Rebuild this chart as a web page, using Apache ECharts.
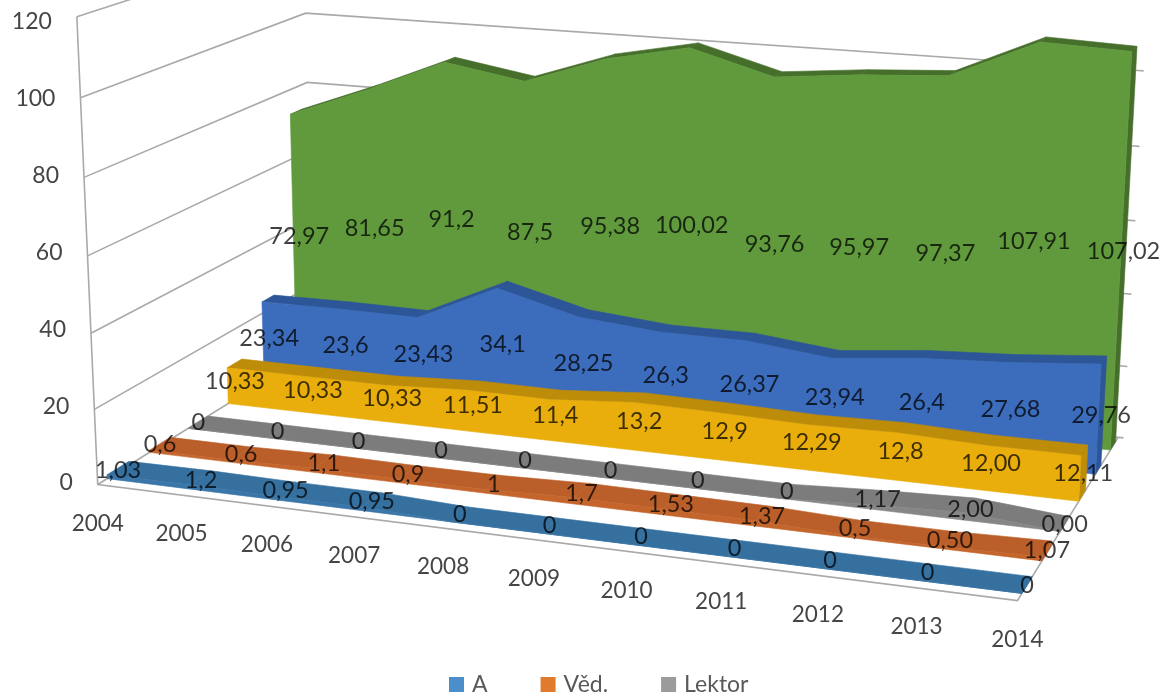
<!DOCTYPE html>
<html>
<head>
<meta charset="utf-8">
<style>html,body{margin:0;padding:0;background:#fff}#chart{width:1169px;height:697px}</style>
<script src="https://cdn.jsdelivr.net/npm/echarts@6/dist/echarts.min.js"></script>
</head>
<body>
<div id="chart"></div>
<script>
// Chart data, one small list per series (front row to back row)
const years = ['2004','2005','2006','2007','2008','2009','2010','2011','2012','2013','2014'];
const yTicks = [0, 20, 40, 60, 80, 100, 120];
const rowA = [1.03, 1.2, 0.95, 0.95, 0, 0, 0, 0, 0, 0, 0];
const rowVed = [0.6, 0.6, 1.1, 0.9, 1, 1.7, 1.53, 1.37, 0.5, 0.5, 1.07];
const rowLektor = [0, 0, 0, 0, 0, 0, 0, 0, 1.17, 2, 0];
const rowYellow = [10.33, 10.33, 10.33, 11.51, 11.4, 13.2, 12.9, 12.29, 12.8, 12, 12.11];
const rowBlue = [23.34, 23.6, 23.43, 34.1, 28.25, 26.3, 26.37, 23.94, 26.4, 27.68, 29.76];
const rowGreen = [72.97, 81.65, 91.2, 87.5, 95.38, 100.02, 93.76, 95.97, 97.37, 107.91, 107.02];
// Points whose labels keep two decimals
const twoDecimalsVed = [9];
const twoDecimalsLektor = [9, 10];
const twoDecimalsYellow = [9];

const FONT = 'Lato';
const TEXT = '#454545';
const GRID = { left: 99, top: 22, width: 921, height: 461 };
const YMAX = 120;

// Depth rows of the 3D box: legend colour, front face, top/side face, depth centre and half width
const rows = [
  { name: 'A', values: rowA, fixed: [], swatch: '#4a8ecb', front: '#3a76a8', top: '#35709f', depth: 0.083, band: 0.045 },
  { name: 'Věd.', values: rowVed, fixed: twoDecimalsVed, swatch: '#e07a2c', front: '#c4652c', top: '#bb5f2a', depth: 0.26, band: 0.045 },
  { name: 'Lektor', values: rowLektor, fixed: twoDecimalsLektor, swatch: '#9b9b9b', front: '#868686', top: '#7c7c7c', depth: 0.43, band: 0.045 },
  { name: 'Doc.', values: rowYellow, fixed: twoDecimalsYellow, swatch: '#ffc000', front: '#e9ae0b', top: '#bd8c08', depth: 0.605, band: 0.035 },
  { name: 'Odb.', values: rowBlue, fixed: [], swatch: '#4472c4', front: '#3c6cbc', top: '#2d5698', depth: 0.775, band: 0.03 },
  { name: 'Celkem', values: rowGreen, fixed: [], swatch: '#70ad47', front: '#609a3d', top: '#466f2c', depth: 0.94, band: 0.03 }
];

// Perspective camera fitted to the corners of the box: [u, depth, height] -> screen
const corners = [
  [0, 0, 0, 98, 483], [1, 0, 0, 1018, 601], [0, 1, 0, 313, 352], [1, 1, 0, 1118, 437],
  [0, 0, 1, 76, 18], [0, 1, 1, 305, -58], [1, 1, 1, 1142, -6]
];
function fitCamera(pts) {
  const A = [], b = [];
  pts.forEach(([x, y, z, sx, sy]) => {
    A.push([x, y, z, 1, 0, 0, 0, 0, -sx * x, -sx * y, -sx * z]); b.push(sx);
    A.push([0, 0, 0, 0, x, y, z, 1, -sy * x, -sy * y, -sy * z]); b.push(sy);
  });
  const n = 11, M = [];
  for (let i = 0; i < n; i++) {
    M.push(new Array(n + 1).fill(0));
    for (let j = 0; j < n; j++) A.forEach(r => { M[i][j] += r[i] * r[j]; });
    A.forEach((r, k) => { M[i][n] += r[i] * b[k]; });
  }
  for (let c = 0; c < n; c++) {
    let p = c;
    for (let r = c + 1; r < n; r++) if (Math.abs(M[r][c]) > Math.abs(M[p][c])) p = r;
    [M[c], M[p]] = [M[p], M[c]];
    for (let r = 0; r < n; r++) {
      if (r === c) continue;
      const f = M[r][c] / M[c][c];
      for (let j = c; j <= n; j++) M[r][j] -= f * M[c][j];
    }
  }
  return M.map((r, i) => r[n] / r[i]);
}
const cam = fitCamera(corners);
function project(u, d, h) {
  const w = cam[8] * u + cam[9] * d + cam[10] * h + 1;
  return [
    (cam[0] * u + cam[1] * d + cam[2] * h + cam[3]) / w,
    (cam[4] * u + cam[5] * d + cam[6] * h + cam[7]) / w
  ];
}
// Converts a category/value pair through the axes into box coordinates
function boxCoord(api, i, v) {
  const p = api.coord([i, v]);
  return [(p[0] - GRID.left) / GRID.width, (GRID.top + GRID.height - p[1]) / GRID.height];
}

function renderRow(row) {
  const d1 = row.depth - row.band, d2 = row.depth + row.band;
  return function (params, api) {
    if (params.dataIndex !== 0) return;
    const n = row.values.length, kids = [];
    const pts = row.values.map((v, i) => boxCoord(api, i, v));
    const poly = (points, fill) => kids.push({
      type: 'polygon', shape: { points },
      style: { fill, stroke: fill, lineWidth: 0.6 }
    });
    // end cap on the right
    const last = pts[n - 1];
    poly([project(1, d1, 0), project(1, d2, 0), project(1, d2, last[1]), project(1, d1, last[1])], row.top);
    // sloping top surface
    for (let i = 0; i < n - 1; i++) {
      const a = pts[i], b = pts[i + 1];
      poly([project(a[0], d1, a[1]), project(a[0], d2, a[1]), project(b[0], d2, b[1]), project(b[0], d1, b[1])], row.top);
    }
    // front face
    const front = pts.map(p => project(p[0], d1, p[1]));
    front.push(project(1, d1, 0), project(0, d1, 0));
    poly(front, row.front);
    return { type: 'group', children: kids };
  };
}

function renderBox(params, api) {
  const v = api.value(0);
  const style = { stroke: '#a9a9a9', lineWidth: 1.6, fill: 'none' };
  const h = boxCoord(api, 0, v)[1];
  const kids = [{
    type: 'polyline',
    shape: { points: [project(0, 0, h), project(0, 1, h), project(1, 1, h), project(1.006, 1, h)] },
    style
  }];
  if (v === 0) {
    kids.push({ type: 'polyline', shape: { points: [project(0, 0, 1), project(0, 0, 0), project(1, 0, 0), project(1, 1, 0)] }, style });
  }
  return { type: 'group', children: kids };
}

function labelText(row, i) {
  const v = row.values[i];
  const s = row.fixed.includes(i) ? v.toFixed(2) : String(v);
  return s.replace('.', ',');
}
const labelRows = [];
rows.forEach((row, k) => row.values.forEach((v, i) => labelRows.push([i, v, k])));
function renderLabel(params, api) {
  const i = api.value(0), v = api.value(1), k = api.value(2);
  const c = boxCoord(api, i, v);
  const p = project(c[0], rows[k].depth, c[1] / 2);
  return {
    type: 'text',
    style: {
      x: p[0], y: p[1], text: labelText(rows[k], i), align: 'center', verticalAlign: 'middle',
      font: '23.5px ' + FONT, fill: 'rgba(0,0,0,0.75)'
    }
  };
}

// Axis labels follow the slanted box edges through per-label padding;
// centred labels move by half of the padding they receive
const yRich = {}, xRich = {};
yTicks.forEach(v => {
  const edge = project(0, 0, v / YMAX)[0] - 25;
  yRich['t' + v] = { padding: [0, Math.max(0, 73 - edge), 0, 0], fontFamily: FONT, fontSize: 23, color: TEXT };
});
years.forEach((y, i) => {
  const u = i / (years.length - 1);
  const floor = project(u, 0, 0);
  const dx = floor[0] - (GRID.left + u * GRID.width);
  const top = Math.max(0, 2 * (floor[1] + 39 - 522));
  xRich['c' + i] = {
    padding: [top, dx < 0 ? -2 * dx : 0, 0, dx > 0 ? 2 * dx : 0],
    lineHeight: 26, fontFamily: FONT, fontSize: 22.5, color: TEXT
  };
});

const chart = echarts.init(document.getElementById('chart'));
chart.setOption({
  animation: false,
  backgroundColor: '#ffffff',
  grid: GRID,
  legend: {
    data: ['A', 'Věd.', 'Lektor'],
    left: 444, top: 668, itemWidth: 15, itemHeight: 15, itemGap: 53, icon: 'rect',
    textStyle: { fontFamily: FONT, fontSize: 23, color: '#595959', padding: [0, 0, 0, 3] }
  },
  xAxis: {
    type: 'category', data: years, boundaryGap: false,
    axisLine: { show: false }, axisTick: { show: false }, splitLine: { show: false },
    axisLabel: {
      interval: 0, margin: 26, hideOverlap: false,
      formatter: (val, i) => '{c' + i + '|' + val + '}', rich: xRich
    }
  },
  yAxis: {
    type: 'value', min: 0, max: YMAX, interval: 20,
    axisLine: { show: false }, axisTick: { show: false }, splitLine: { show: false },
    axisLabel: { margin: 26, formatter: v => '{t' + v + '|' + v + '}', rich: yRich }
  },
  series: [
    { type: 'custom', name: 'Box', coordinateSystem: 'cartesian2d', z: 1, silent: true, clip: false,
      data: yTicks.map(v => [v]), encode: { x: -1, y: 0 }, renderItem: renderBox }
  ].concat(rows.map((row, k) => ({
    type: 'custom', name: row.name, coordinateSystem: 'cartesian2d', clip: false, silent: true,
    z: 10 - k, itemStyle: { color: row.swatch },
    data: row.values.map((v, i) => [i, v]), renderItem: renderRow(row)
  }))).concat([
    { type: 'custom', name: 'Popisky', coordinateSystem: 'cartesian2d', z: 20, silent: true, clip: false,
      data: labelRows, encode: { x: 0, y: 1 }, renderItem: renderLabel }
  ])
});
</script>
</body>
</html>
